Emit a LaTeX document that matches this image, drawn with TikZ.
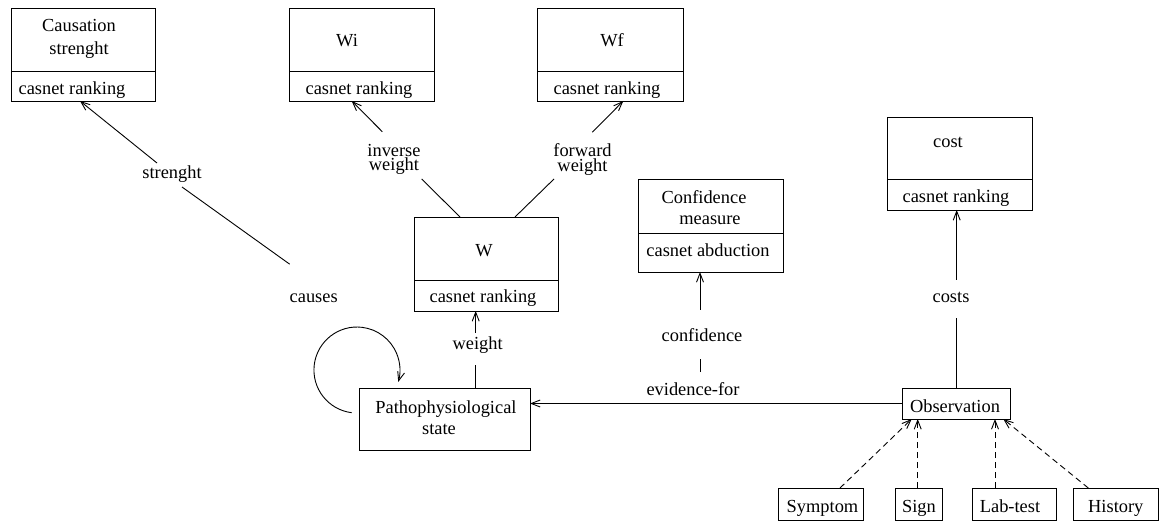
\documentclass[tikz,border=0pt]{standalone}
\usepackage{fontspec}
\setmainfont{Liberation Serif}
\usetikzlibrary{arrows.meta,calc}
\begin{document}
\begin{tikzpicture}[x=1pt,y=-1pt,line width=0.9pt,
  every node/.style={font=\fontsize{18.4}{22}\selectfont},
  cls/.style={draw,rectangle,inner sep=0pt,outer sep=0pt},
  txt/.style={anchor=base,inner sep=0pt},
  lbl/.style={align=center,inner sep=0pt,font=\fontsize{18.4}{14.5}\selectfont},
  arr/.style={-{Straight Barb[length=9pt,width=7pt]}},
  dep/.style={arr,dash pattern=on 6pt off 4pt}]
\useasboundingbox (0,0) rectangle (1162,521);

% class boxes
\node[cls,minimum width=144,minimum height=93] (cs)   at (83,54.5)   {};
\node[cls,minimum width=145,minimum height=93] (wi)   at (361.5,54.5) {};
\node[cls,minimum width=146,minimum height=93] (wf)   at (610,54.5)  {};
\node[cls,minimum width=144,minimum height=94] (w)    at (486,264)   {};
\node[cls,minimum width=145,minimum height=93] (conf) at (710.5,225.5) {};
\node[cls,minimum width=145,minimum height=93] (cost) at (959.5,163.5) {};
\node[cls,minimum width=171,minimum height=62] (patho) at (444.5,419) {};
\node[cls,minimum width=108,minimum height=31] (obs)  at (956,403.5) {};
\node[cls,minimum width=85,minimum height=32.3] (symp) at (820.5,504.15) {};
\node[cls,minimum width=47,minimum height=32.3] (sign) at (918.5,504.15) {};
\node[cls,minimum width=84,minimum height=32.3] (lab)  at (1014,504.15) {};
\node[cls,minimum width=85,minimum height=32.3] (hist) at (1115.5,504.15) {};

% compartment dividers
\draw (cs.west |- 0,71) -- (cs.east |- 0,71);
\draw (wi.west |- 0,71) -- (wi.east |- 0,71);
\draw (wf.west |- 0,71) -- (wf.east |- 0,71);
\draw (w.west |- 0,280) -- (w.east |- 0,280);
\draw (conf.west |- 0,233.3) -- (conf.east |- 0,233.3);
\draw (cost.west |- 0,179.3) -- (cost.east |- 0,179.3);

% box texts
\node[txt] (cs1) at (79,32) {Causation};
\node[txt] (cs2) at (79,55) {strenght};
\node[txt] (cs3) at (72,94.5) {casnet ranking};
\node[txt] (wi1) at (347,47) {Wi};
\node[txt] (wi2) at (359,94.5) {casnet ranking};
\node[txt] (wf1) at (612,47) {Wf};
\node[txt] (wf2) at (607,94.5) {casnet ranking};
\node[txt] (w1) at (484,257) {W};
\node[txt] (w2) at (483,303) {casnet ranking};
\node[txt] (cf1) at (704,203.3) {Confidence};
\node[txt] (cf2) at (710,225) {measure};
\node[txt] (cf3) at (708,257) {casnet abduction};
\node[txt] (co1) at (948,148) {cost};
\node[txt] (co2) at (956,202.5) {casnet ranking};
\node[txt] (pa1) at (446,413) {Pathophysiological};
\node[txt] (pa2) at (439,434) {state};
\node[txt] (ob1) at (955,412) {Observation};
\node[txt] (sy1) at (822.5,512.7) {Symptom};
\node[txt] (si1) at (919,512.7) {Sign};
\node[txt] (la1) at (1010,512.7) {Lab-test};
\node[txt] (hi1) at (1115.8,512.7) {History};

% association labels
\node[txt] (strl) at (172,179) {strenght};
\node[txt] (causes) at (313.7,302.7) {causes};
\node[lbl] (invl) at (394,159.5) {inverse\\weight};
\node[lbl] (fwdl) at (582.5,159.5) {forward\\weight};
\node[txt] (wl) at (477.7,349) {weight};
\node[txt] (cfl) at (702,341.7) {confidence};
\node[txt] (efl) at (693,395.7) {evidence-for};
\node[txt] (costl) at (951,302.7) {costs};

% causes / strenght
\draw[arr] ($(strl.base)+(-15,-16)$) -- ([xshift=-3]cs.south);
\draw ($(strl.base)+(10,8)$) -- ($(causes.base)+(-24,-38.5)$);
\draw[arr] ($(patho.west)+(-7.3,-6.3)$) arc[start angle=263,end angle=-16,radius=43pt];

% weights
\draw[arr] ($(invl.center)+(-11.7,-27.8)$) -- ([xshift=-9.8]wi.south);
\draw ($(invl.center)+(27.7,19.5)$) -- ([xshift=-26]w.north);
\draw[arr] ($(fwdl.center)+(9.8,-27.2)$) -- ([xshift=13.3]wf.south);
\draw ($(fwdl.center)+(-28.5,19.5)$) -- ([xshift=29]w.north);
\draw ([xshift=31.2]patho.north) -- ($(wl.base)+(-2,16)$);
\draw[arr] ($(wl.base)+(-2,-16)$) -- ([xshift=-10.3]w.south);

% evidence and confidence
\draw[arr] (obs.west) -- (obs.west -| patho.east);
\draw ($(efl.base)+(7,-23.7)$) -- ($(cfl.base)+(-2,17.3)$);
\draw[arr] ($(cfl.base)+(-2,-31.7)$) -- ([xshift=-10.5]conf.south);

% costs
\draw ([xshift=0.7]obs.north) -- ($(costl.base)+(5.7,15.3)$);
\draw[arr] ($(costl.base)+(5.7,-22.7)$) -- ([xshift=-2.8]cost.south);

% kinds of observation
\draw[dep] ([xshift=19.5]symp.north) -- ([xshift=-44.3]obs.south);
\draw[dep] ([xshift=-0.8]sign.north) -- ([xshift=-38.3]obs.south);
\draw[dep] ([xshift=-19]lab.north) -- ([xshift=39]obs.south);
\draw[dep] ([xshift=-27.2]hist.north) -- ([xshift=47.3]obs.south);
\end{tikzpicture}
\end{document}
